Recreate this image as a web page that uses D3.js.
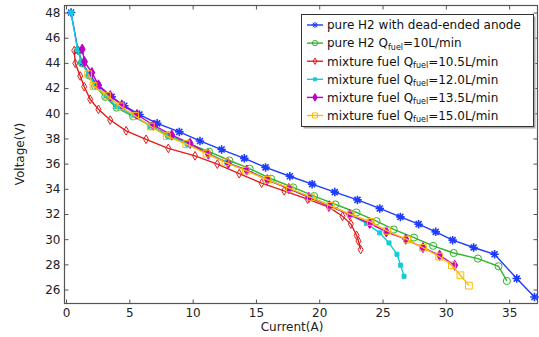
<!DOCTYPE html>
<html>
<head>
<meta charset="utf-8">
<script src="https://cdn.jsdelivr.net/npm/d3@7"></script>
<style>
  body { margin: 0; background: #fff; }
  svg { font-family: "DejaVu Sans", sans-serif; }
</style>
</head>
<body>
<div id="chart"></div>
<script>
// Data: [current (A), voltage (V)]
var pureDeadEnded = [[0.4,48.0],[0.95,45.0],[1.3,44.0],[1.9,43.0],[2.5,42.2],[3.6,41.3],[4.6,40.6],[5.8,39.9],[7.2,39.2],[8.95,38.52],[10.58,37.8],[12.29,37.12],[14.08,36.42],[15.76,35.7],[17.68,35.0],[19.44,34.37],[21.23,33.74],[23.02,33.12],[24.78,32.44],[26.41,31.77],[27.85,31.19],[29.2,30.58],[30.54,29.92],[32.19,29.34],[33.85,28.8],[35.6,26.87],[37.0,25.41]];
var pureQ10 = [[0.95,45.0],[1.25,44.0],[1.85,43.0],[2.3,42.15],[3.1,41.3],[4.0,40.45],[5.3,39.75],[6.7,39.0],[8.1,38.25],[9.65,37.6],[11.3,36.95],[12.9,36.25],[14.5,35.6],[16.2,34.8],[17.94,34.11],[19.6,33.42],[21.28,32.76],[22.94,32.12],[24.52,31.43],[25.88,30.77],[27.48,30.13],[29.0,29.47],[30.62,28.9],[32.53,28.46],[34.16,27.85],[34.82,26.68]];
var mixQ105 = [[0.65,44.98],[0.73,43.97],[1.12,42.96],[1.44,42.11],[1.91,41.11],[2.56,40.31],[3.49,39.46],[4.75,38.61],[6.32,37.93],[8.08,37.21],[10.19,36.62],[11.95,35.96],[13.68,35.2],[15.45,34.45],[17.23,33.84],[19.08,33.18],[20.76,32.55],[21.84,31.82],[22.5,31.2],[22.95,30.3],[23.1,29.85],[23.27,29.18]];
var mixQ120 = [[0.4,48.0],[0.91,45.03],[1.2,44.1],[1.78,43.12],[2.3,42.25],[3.2,41.37],[4.0,40.52],[5.3,39.86],[6.64,38.99],[8.08,38.19],[9.66,37.55],[11.24,36.81],[12.69,36.1],[14.27,35.49],[16.0,34.7],[17.6,34.0],[19.3,33.35],[20.9,32.65],[22.4,31.95],[23.73,31.25],[24.78,30.5],[25.51,29.7],[26.14,28.8],[26.43,27.93],[26.7,27.05]];
var mixQ135 = [[1.28,45.09],[1.46,44.1],[2.04,43.23],[2.56,42.25],[3.49,41.4],[4.41,40.66],[5.6,39.9],[6.9,39.05],[8.35,38.27],[9.8,37.61],[11.24,36.76],[12.82,36.02],[14.27,35.49],[15.9,34.72],[17.6,34.02],[19.18,33.32],[20.8,32.65],[22.4,31.95],[23.99,31.25],[25.3,30.58],[26.83,30.0],[28.19,29.33],[29.51,28.72],[30.7,27.93]];
var mixQ150 = [[1.75,43.1],[2.17,42.17],[3.23,41.4],[4.3,40.55],[5.46,39.78],[6.7,38.95],[7.96,38.19],[9.5,37.55],[11.1,36.8],[12.6,36.1],[14.2,35.45],[15.9,34.72],[17.68,34.03],[19.34,33.32],[20.91,32.65],[22.49,31.96],[24.07,31.37],[25.36,30.66],[26.95,29.97],[28.19,29.32],[29.48,28.62],[30.48,27.93],[31.15,27.13],[31.82,26.31]];

var xTicks = [0, 5, 10, 15, 20, 25, 30, 35];
var yTicks = [26, 28, 30, 32, 34, 36, 38, 40, 42, 44, 46, 48];

// legend labels: [before subscript, subscript, after subscript]
var seriesLabels = [
    ["pure H2 with dead-ended anode", "", ""],
    ["pure H2 Q", "fuel", "=10L/min"],
    ["mixture fuel Q", "fuel", "=10.5L/min"],
    ["mixture fuel Q", "fuel", "=12.0L/min"],
    ["mixture fuel Q", "fuel", "=13.5L/min"],
    ["mixture fuel Q", "fuel", "=15.0L/min"]
];

// custom 8-arm asterisk marker
var asterisk = {
    draw: function(ctx, size) {
        var r = Math.sqrt(size) / 2;
        var d = r * Math.SQRT1_2;
        ctx.moveTo(-r, 0); ctx.lineTo(r, 0);
        ctx.moveTo(0, -r); ctx.lineTo(0, r);
        ctx.moveTo(-d, -d); ctx.lineTo(d, d);
        ctx.moveTo(-d, d); ctx.lineTo(d, -d);
    }
};

var series = [
    { values: pureDeadEnded, color: "#1e3cff", symbol: asterisk, size: 72, fill: "none", sw: 1.6 },
    { values: pureQ10, color: "#2bb52b", symbol: d3.symbolCircle, size: 40, fill: "none", sw: 1 },
    { values: mixQ105, color: "#e01e1e", symbol: d3.symbolDiamond, size: 22, fill: "none", sw: 1 },
    { values: mixQ120, color: "#12ccd6", symbol: d3.symbolSquare, size: 16, fill: "#12ccd6", sw: 1 },
    { values: mixQ135, color: "#c000c8", symbol: d3.symbolDiamond, size: 30, fill: "#c000c8", sw: 1 },
    { values: mixQ150, color: "#ffbb00", symbol: d3.symbolSquare, size: 46, fill: "none", sw: 1 }
];
series.forEach(function(s, i) { s.label = seriesLabels[i]; });

var fullWidth = 539, fullHeight = 337;
var box = { left: 64.5, right: 537.5, top: 5.5, bottom: 303.5 };

var x = d3.scaleLinear().domain([-0.12, 37.24]).range([box.left, box.right]);
var y = d3.scaleLinear().domain([24.89, 48.56]).range([box.bottom, box.top]);

var svg = d3.select("#chart").append("svg")
    .attr("width", fullWidth)
    .attr("height", fullHeight);

var axisColor = "#555";

// frame
svg.append("rect")
    .attr("x", box.left).attr("y", box.top)
    .attr("width", box.right - box.left).attr("height", box.bottom - box.top)
    .attr("fill", "none").attr("stroke", axisColor).attr("stroke-width", 1.2);

// bottom axis, ticks pointing inward
var xAxisG = svg.append("g")
    .attr("transform", "translate(0," + box.bottom + ")")
    .call(d3.axisBottom(x).tickValues(xTicks).tickSizeInner(-4).tickSizeOuter(0).tickPadding(5));
// left axis
var yAxisG = svg.append("g")
    .attr("transform", "translate(" + box.left + ",0)")
    .call(d3.axisLeft(y).tickValues(yTicks).tickSizeInner(-4).tickSizeOuter(0).tickPadding(4));
// top and right mirrored ticks
var topG = svg.append("g")
    .attr("transform", "translate(0," + box.top + ")")
    .call(d3.axisTop(x).tickValues(xTicks).tickSizeInner(-4).tickSizeOuter(0).tickFormat(""));
var rightG = svg.append("g")
    .attr("transform", "translate(" + box.right + ",0)")
    .call(d3.axisRight(y).tickValues(yTicks).tickSizeInner(-4).tickSizeOuter(0).tickFormat(""));

[xAxisG, yAxisG, topG, rightG].forEach(function(g) {
    g.select(".domain").remove();
    g.selectAll(".tick line").attr("stroke", axisColor);
    g.selectAll(".tick text")
        .attr("fill", "#222")
        .style("font-size", "12px")
        .style("font-family", "DejaVu Sans, sans-serif");
});

// axis titles
svg.append("text")
    .attr("x", 292).attr("y", 331)
    .attr("text-anchor", "middle")
    .style("font-size", "12px").attr("fill", "#222")
    .text("Current(A)");
svg.append("text")
    .attr("transform", "translate(24,154) rotate(-90)")
    .attr("text-anchor", "middle")
    .style("font-size", "12px").attr("fill", "#222")
    .text("Voltage(V)");

// lines and markers
var line = d3.line()
    .x(function(d) { return x(d[0]); })
    .y(function(d) { return y(d[1]); });

series.forEach(function(s) {
    var g = svg.append("g");
    g.append("path")
        .datum(s.values)
        .attr("fill", "none")
        .attr("stroke", s.color)
        .attr("stroke-width", 1.4)
        .attr("d", line);
    g.selectAll(".marker")
        .data(s.values)
        .enter().append("path")
        .attr("class", "marker")
        .attr("transform", function(d) { return "translate(" + x(d[0]) + "," + y(d[1]) + ")"; })
        .attr("d", d3.symbol().type(s.symbol).size(s.size))
        .attr("fill", s.fill)
        .attr("stroke", s.color)
        .attr("stroke-width", s.sw);
});

// LEGEND -------------------------------------------
var legend = svg.append("g").attr("class", "legend");
var lx = 301.5, ly = 14.5, lw = 232, lh = 112;

legend.append("rect")
    .attr("x", lx + 2).attr("y", ly + 2)
    .attr("width", lw).attr("height", lh)
    .attr("fill", "#aaa");
legend.append("rect")
    .attr("x", lx).attr("y", ly)
    .attr("width", lw).attr("height", lh)
    .attr("fill", "#fff").attr("stroke", "#333").attr("stroke-width", 1);

series.forEach(function(s, i) {
    var cy = 25 + i * 18.1;
    legend.append("line")
        .attr("x1", 307).attr("x2", 323)
        .attr("y1", cy).attr("y2", cy)
        .attr("stroke", s.color).attr("stroke-width", 1.4);
    legend.append("path")
        .attr("transform", "translate(315," + cy + ")")
        .attr("d", d3.symbol().type(s.symbol).size(s.size * 0.55))
        .attr("fill", s.fill)
        .attr("stroke", s.color)
        .attr("stroke-width", 1);

    var t = legend.append("text")
        .attr("x", 327).attr("y", cy + 4.3)
        .style("font-size", "12px").attr("fill", "#111");
    t.append("tspan").text(s.label[0]);
    if (s.label[1]) {
        t.append("tspan").attr("dy", 2.5).style("font-size", "8px").text(s.label[1]);
        t.append("tspan").attr("dy", -2.5).text(s.label[2]);
    }
});
// END LEGEND
</script>
</body>
</html>
